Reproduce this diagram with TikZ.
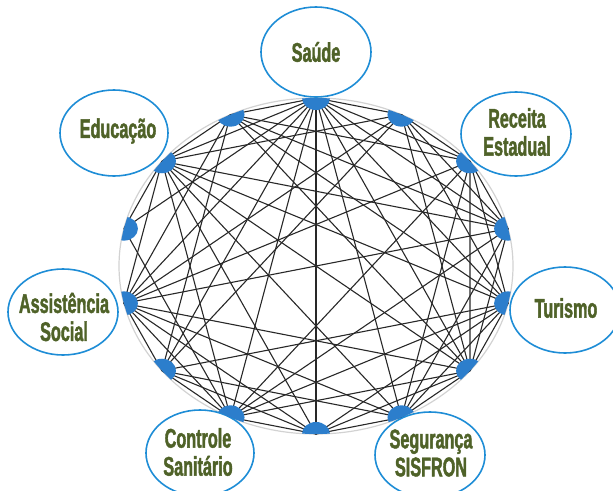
\documentclass[tikz,border=0pt]{standalone}
\usepackage{fontspec}
\newfontfamily\labelfont{Liberation Sans Bold}[FakeStretch=0.6,FakeBold=1.5]
\definecolor{ringblue}{RGB}{30,141,214}
\definecolor{dotblue}{RGB}{44,126,204}
\definecolor{textgreen}{RGB}{79,98,40}
\definecolor{edgegray}{RGB}{40,40,40}

\tikzset{
  area/.style={draw=ringblue, line width=1.6pt, fill=white},
  link/.style={draw=edgegray, line width=1.1pt},
  areatext/.style={text=textgreen, font=\labelfont\fontsize{27}{28}\selectfont, align=center, inner sep=0pt}
}

\begin{document}
\begin{tikzpicture}[x=1pt,y=1pt,yscale=-1]
    \useasboundingbox (0,0) rectangle (613,490);
    \coordinate (c) at (316,266);
    % points on the ring
    \foreach \i in {0,...,13}
        \coordinate (p\i) at ({316+197*cos(90-\i*360/14)},{266-168*sin(90-\i*360/14)});
    \draw [gray!35, line width=1.2pt] (c) ellipse [x radius=197, y radius=168];
    % links
    \foreach \a/\b in {0/1,0/2,0/3,0/4,0/5,0/6,0/7,0/8,0/9,0/10,0/11,0/12,0/13,
        1/2,1/3,1/4,1/5,1/9,1/10,1/12,
        2/3,2/4,2/5,2/6,2/8,2/10,2/13,
        3/5,3/6,3/8,3/10,3/12,3/13,
        4/5,4/6,4/7,4/8,4/9,4/12,4/13,
        5/6,5/7,5/8,5/10,5/12,5/13,
        6/7,6/9,6/10,6/12,
        7/8,7/9,7/10,7/12,
        8/9,8/10,8/11,8/12,
        9/10,9/13,10/12,10/13,11/12,12/13}
        \draw [link] (p\a) -- (p\b);
    % areas
    \draw [area] (316,52) ellipse [x radius=55, y radius=45];
    \draw [area] (516,134) ellipse [x radius=55, y radius=42];
    \draw [area] (114,133) ellipse [x radius=54, y radius=43];
    \draw [area] (565,310) ellipse [x radius=55, y radius=43];
    \draw [area] (63,312) ellipse [x radius=55, y radius=43];
    \draw [area] (200,453) ellipse [x radius=54, y radius=43];
    \draw [area] (430,455) ellipse [x radius=55, y radius=43];
    % half dots
    \begin{scope}
        \clip (c) ellipse [x radius=197, y radius=168];
        \foreach \i in {0,...,13}
            \fill [dotblue] (p\i) ellipse [x radius=14, y radius=12];
    \end{scope}
    \node [areatext] (saude) at (316,52) {Saúde};
    \node [areatext] (receita) at (517,132) {Receita\\Estadual};
    \node [areatext] (educacao) at (118,131) {Educação};
    \node [areatext] (turismo) at (566,308) {Turismo};
    \node [areatext] (assist) at (64,317) {Assistência\\Social};
    \node [areatext] (controle) at (198,452) {Controle\\Sanitário};
    \node [areatext] (seguranca) at (431,453) {Segurança\\SISFRON};
\end{tikzpicture}
\end{document}
